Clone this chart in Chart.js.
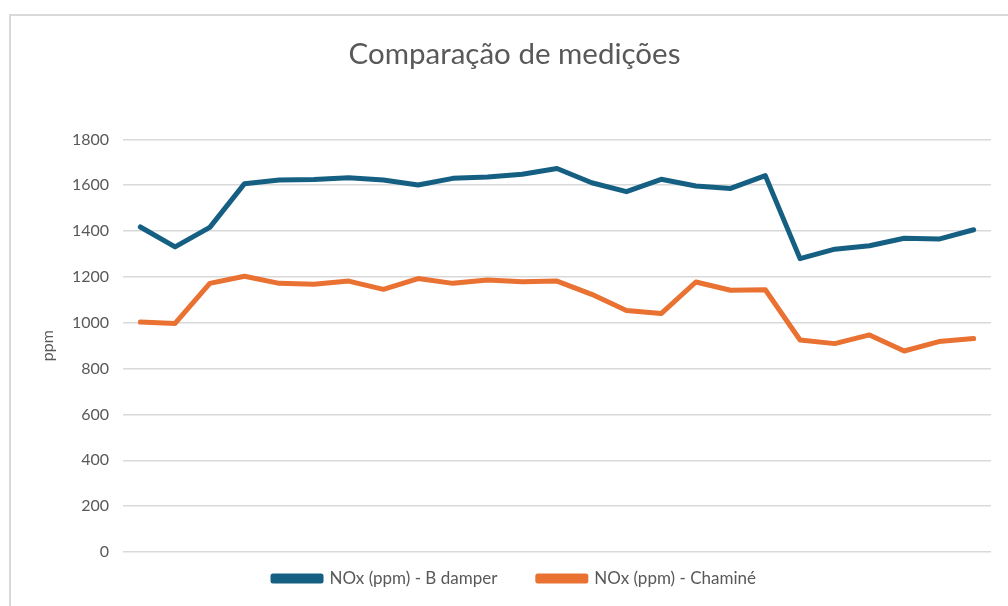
<!DOCTYPE html>
<html>
<head>
<meta charset="utf-8">
<script src="https://cdn.jsdelivr.net/npm/chart.js@4"></script>
<style>
  html, body { margin: 0; padding: 0; background: #fff; }
  #wrap { position: relative; width: 1008px; height: 606px; }
  #frame {
    position: absolute; left: 9px; top: 14px; right: 0; bottom: 0;
    border-top: 2px solid #d9d9d9; border-left: 2px solid #d9d9d9;
    pointer-events: none;
  }
  canvas { position: absolute; left: 0; top: 0; }
</style>
</head>
<body>
<div id="wrap">
  <canvas id="chart" width="1008" height="606"></canvas>
  <div id="frame"></div>
</div>
<script>
// sample index (categories are not printed on the chart)
const samples = ["1", "2", "3", "4", "5", "6", "7", "8", "9", "10", "11", "12", "13",
  "14", "15", "16", "17", "18", "19", "20", "21", "22", "23", "24", "25"];

// NOx (ppm) - B damper
const bDamper = [1418, 1331, 1416, 1607, 1623, 1625, 1633, 1623, 1601, 1630, 1636, 1648, 1673,
  1611, 1572, 1626, 1597, 1586, 1642, 1280, 1321, 1336, 1369, 1365, 1406];

// NOx (ppm) - Chaminé
const chamine = [1003, 997, 1172, 1203, 1172, 1168, 1182, 1146, 1193, 1172, 1187, 1179, 1182,
  1124, 1054, 1040, 1178, 1142, 1144, 925, 909, 947, 877, 918, 931];

const yTicks = [0, 200, 400, 600, 800, 1000, 1200, 1400, 1600, 1800];

const font = "Lato, 'Open Sans', sans-serif";
const grey = "#595959";

const ctx = document.getElementById("chart").getContext("2d");
new Chart(ctx, {
  type: "line",
  data: {
    labels: samples,
    datasets: [
      {
        label: "NOx (ppm) - B damper",
        data: bDamper,
        borderColor: "#156082",
        backgroundColor: "#156082",
        borderWidth: 5,
        pointRadius: 0,
        tension: 0,
        borderJoinStyle: "round",
        borderCapStyle: "round"
      },
      {
        label: "NOx (ppm) - Chaminé",
        data: chamine,
        borderColor: "#E97132",
        backgroundColor: "#E97132",
        borderWidth: 5,
        pointRadius: 0,
        tension: 0,
        borderJoinStyle: "round",
        borderCapStyle: "round"
      }
    ]
  },
  options: {
    responsive: false,
    animation: false,
    layout: { padding: { left: 38, right: 17, top: 0, bottom: 9 } },
    plugins: {
      title: {
        display: true,
        text: "Comparação de medições",
        color: grey,
        font: { family: font, size: 29.5, weight: "normal" },
        padding: { top: 37, bottom: 67 }
      },
      legend: {
        position: "bottom",
        labels: {
          color: grey,
          font: { family: font, size: 17 },
          boxWidth: 48,
          boxHeight: 5,
          padding: 10,
          // extra room between the two entries without growing the legend height
          generateLabels: (chart) => {
            const items = Chart.defaults.plugins.legend.labels.generateLabels(chart);
            items[0].text += "       ";
            return items;
          }
        }
      },
      tooltip: { enabled: false }
    },
    scales: {
      x: {
        offset: true,
        grid: { display: false },
        border: { display: false },
        ticks: { display: false },
        afterFit: (scale) => { scale.height = 8; }
      },
      y: {
        min: 0,
        max: 1800,
        afterBuildTicks: (scale) => { scale.ticks = yTicks.map(v => ({ value: v })); },
        grid: { color: "#d9d9d9", lineWidth: 1.5, drawTicks: false },
        border: { display: false },
        ticks: {
          color: grey,
          font: { family: font, size: 16 },
          padding: 14,
          callback: (v) => String(v)
        },
        title: { display: true, text: "ppm", color: grey, font: { family: font, size: 16 }, padding: 0 },
        afterFit: (scale) => { scale.width = 85; }
      }
    }
  }
});
</script>
</body>
</html>
